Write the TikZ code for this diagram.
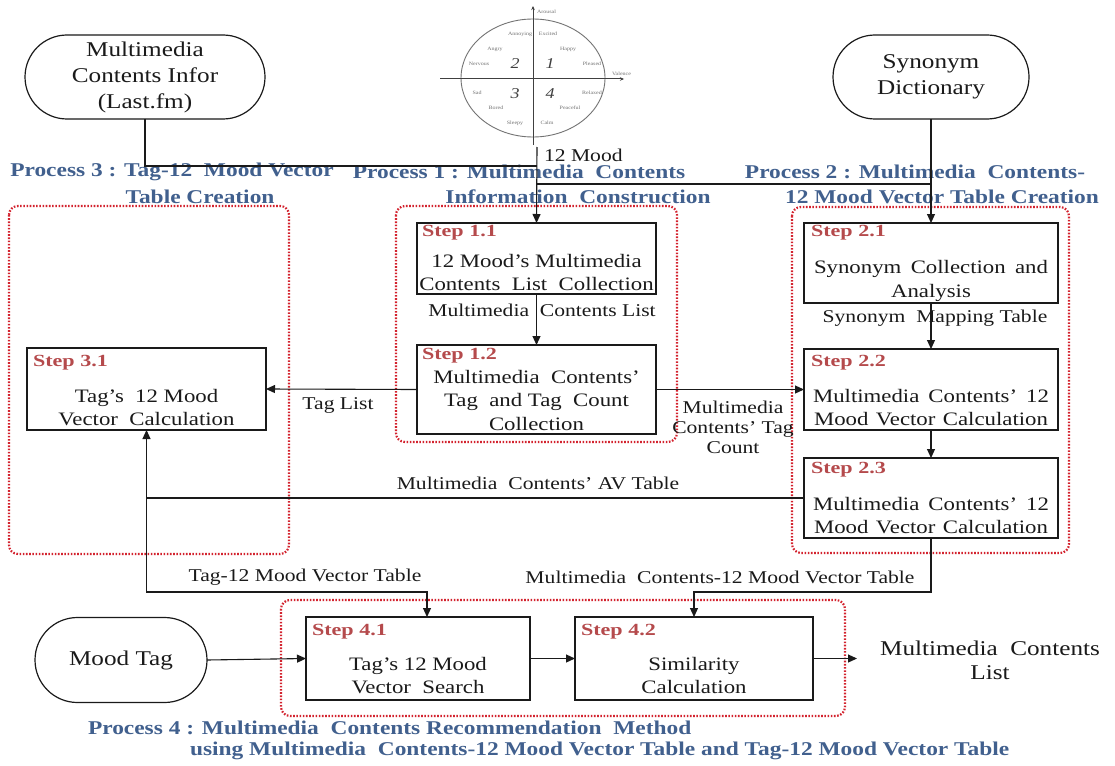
\documentclass[tikz,border=0pt]{standalone}
\usepackage{fontspec}
\setmainfont{Liberation Serif}[FakeStretch=1.2]
\newfontfamily\titlefont{Liberation Serif}[FakeStretch=1.2]
\newfontfamily\stepfont{Liberation Serif}[FakeStretch=1.3]
\usetikzlibrary{arrows.meta,shapes.misc}
\definecolor{titleblue}{HTML}{41608E}
\definecolor{stepred}{HTML}{B54A4C}
\definecolor{dotred}{HTML}{D3222E}
\definecolor{ink}{HTML}{1A1A1A}

\tikzset{
  procbox/.style={draw=ink, line width=1.3pt, fill=white, rectangle},
  terminal/.style={draw=ink, line width=1.2pt, rounded rectangle, fill=white},
  zone/.style={draw=dotred, line width=2.2pt, dash pattern=on 1.6pt off 1.6pt, rounded corners=9pt},
  conn/.style={draw=ink, line width=1.1pt},
  flow/.style={conn, -{Triangle[length=9pt,width=8pt]}},
  body/.style={font=\fontsize{19}{23.5}\selectfont, align=center, text=ink},
  big/.style={font=\fontsize{21}{26}\selectfont, align=center, text=ink},
  lbl/.style={font=\fontsize{18}{20}\selectfont, align=center, text=ink},
  steplbl/.style={font=\stepfont\bfseries\fontsize{17}{19}\selectfont, text=stepred, anchor=west},
  ptitle/.style={font=\titlefont\bfseries\fontsize{19.5}{22}\selectfont, text=titleblue},
  moodword/.style={font=\fontsize{5}{6}\selectfont, text=black!55},
  quad/.style={font=\itshape\fontsize{15}{16}\selectfont, text=black!75},
}

\begin{document}
\begin{tikzpicture}[x=1pt,y=-1pt, every node/.style={inner sep=0pt,outer sep=0pt}]
\useasboundingbox (0,0) rectangle (1115,765);
\fill[white] (0,0) rectangle (1115,765);

% ---- arousal-valence mood circle ----
\draw[black!55, line width=0.9pt] (533,78) ellipse [x radius=72, y radius=59];
\draw[black!75, line width=1pt, -{Stealth[length=4pt,width=3.5pt]}] (533,145) -- (533,6);
\draw[black!75, line width=1pt, -{Stealth[length=4pt,width=3.5pt]}] (440,79) -- (624,79);
\node[moodword, anchor=west] (arousal) at (537,12) {Arousal};
\node[moodword, anchor=west] (valence) at (612,74) {Valence};
\foreach \w/\x/\y [count=\i] in {Annoying/520/34, Excited/548/34, Angry/495/49, Happy/568/49,
    Nervous/479/64, Pleased/592/64, Sad/477/93, Relaxed/592/93, Bored/496/108,
    Peaceful/570/108, Sleepy/515/123, Calm/547/123}
  \node[moodword] (mw\i) at (\x,\y) {\w};
\node[quad] (q2) at (515,64) {2};
\node[quad] (q1) at (550,64) {1};
\node[quad] (q3) at (515,94) {3};
\node[quad] (q4) at (550,94) {4};

% ---- process groups (dotted) ----
\draw[zone] (9,206) rectangle (289,554);
\draw[zone] (396,206) rectangle (677,442);
\draw[zone] (792,207) rectangle (1069,553);
\draw[zone] (281,600) rectangle (845,716);

% ---- process titles ----
\node[ptitle] (p3a) at (172,172) {Process 3 : Tag-12\ \ Mood Vector};
\node[ptitle] (p3b) at (200,197) {Table Creation};
\node[ptitle] (p1a) at (519,172) {Process 1 : Multimedia\ \ Contents};
\node[ptitle] (p1b) at (578,197) {Information\ \ Construction};
\node[ptitle] (p2a) at (915,172) {Process 2 : Multimedia\ \ Contents-};
\node[ptitle] (p2b) at (942,197) {12 Mood Vector Table Creation};
\node[ptitle, anchor=west] (p4a) at (88,728) {Process 4 : Multimedia\ \ Contents Recommendation\ \ Method};
\node[ptitle, anchor=west] (p4b) at (190,751) {using Multimedia\ \ Contents-12 Mood Vector Table and Tag-12 Mood Vector Table};

% ---- terminals ----
\node[terminal, big, minimum width=240pt, minimum height=84pt] (lastfm) at (145,77) {Multimedia\\Contents Infor\\(Last.fm)};
\node[terminal, big, minimum width=196pt, minimum height=84pt] (syn) at (931,77) {Synonym\\Dictionary};
\node[terminal, big, minimum width=172pt, minimum height=85pt] (moodtag) at (121,660) {Mood Tag};

% ---- step boxes ----
\node[procbox, minimum width=239pt, minimum height=71pt] (s11) at (536.5,258.5) {};
\node[procbox, minimum width=239pt, minimum height=89pt] (s12) at (536.5,389.5) {};
\node[procbox, minimum width=239pt, minimum height=82pt] (s31) at (146.5,389) {};
\node[procbox, minimum width=254pt, minimum height=80pt] (s21) at (931,263) {};
\node[procbox, minimum width=254pt, minimum height=81pt] (s22) at (931,389.5) {};
\node[procbox, minimum width=254pt, minimum height=80pt] (s23) at (931,498) {};
\node[procbox, minimum width=224pt, minimum height=83pt] (s41) at (418,658.5) {};
\node[procbox, minimum width=238pt, minimum height=83pt] (s42) at (694,658.5) {};

\node[steplbl] (s11t) at (422,233) {Step 1.1};
\node[body] (s11b) at (536.5,272.5) {12 Mood's Multimedia\\Contents\ \ List\ \ Collection};
\node[steplbl] (s12t) at (422,356) {Step 1.2};
\node[body] (s12b) at (536.5,400) {Multimedia\ \ Contents’\\Tag\ \ and Tag\ \ Count\\Collection};
\node[steplbl] (s31t) at (33,363) {Step 3.1};
\node[body] (s31b) at (146.5,407.5) {Tag’s\ \ 12 Mood\\Vector\ \ Calculation};
\node[steplbl] (s21t) at (811,233) {Step 2.1};
\node[body] (s21b) at (931,281) {\makebox[234pt][s]{Synonym Collection and}\\Analysis};
\node[steplbl] (s22t) at (811,363) {Step 2.2};
\node[body] (s22b) at (931,407.5) {\makebox[236pt][s]{Multimedia Contents’ 12}\\\makebox[234pt][s]{Mood Vector Calculation}};
\node[steplbl] (s23t) at (811,470) {Step 2.3};
\node[body] (s23b) at (931,515.5) {\makebox[236pt][s]{Multimedia Contents’ 12}\\\makebox[234pt][s]{Mood Vector Calculation}};
\node[steplbl] (s41t) at (312,632) {Step 4.1};
\node[body] (s41b) at (418,675.5) {Tag’s 12 Mood\\Vector\ \ Search};
\node[steplbl] (s42t) at (581,632) {Step 4.2};
\node[body] (s42b) at (694,675.5) {Similarity\\Calculation};

% ---- connectors ----
\coordinate (moodfoot) at (537,147);
\coordinate (feedjoin) at (537,166);
\coordinate (busL) at (537,184);
\coordinate (busR) at (931,184);
\coordinate (tap41) at (427,592);
\coordinate (tap42) at (694,592);
\coordinate (outtip) at (857,658.5);

\draw[conn] (lastfm.south) |- (feedjoin);
\draw[flow] (moodfoot) -- (s11.north);
\draw[conn] (busL) -- (busR);
\draw[flow] (syn.south) -- (s21.north);
\draw[flow] (s11.south) -- (s12.north);
\draw[flow] (s12.west) -- (s31.east);
\draw[flow] (s12.east) -- (s22.west);
\draw[flow] (s21.south) -- (s22.north);
\draw[flow] (s22.south) -- (s23.north);
\draw[flow] (s23.west) -| (s31.south);
\draw[flow] (s31.south) |- (tap41) -- (tap41 |- s41.north);
\draw[flow] (s23.south) |- (tap42) -- (s42.north);
\draw[flow] (moodtag.east) -- (s41.west);
\draw[flow] (s41.east) -- (s42.west);
\draw[flow] (s42.east) -- (outtip);

% ---- connector labels ----
\node[lbl, anchor=west] (l12) at (544,155) {12 Mood};
\node[lbl] (lmcl) at (542,310) {Multimedia\ \ Contents List};
\node[lbl] (lsmt) at (935,318) {Synonym\ \ Mapping Table};
\node[lbl] (ltag) at (338,405) {Tag List};
\node[lbl] (lmct) at (733,427) {Multimedia\\Contents’ Tag\\Count};
\node[lbl] (lav) at (538,483) {Multimedia\ \ Contents’ AV Table};
\node[lbl] (lt12) at (305,577) {Tag-12 Mood Vector Table};
\node[lbl] (lmc12) at (720,577) {Multimedia\ \ Contents-12 Mood Vector Table};
\node[big, font=\fontsize{21}{24}\selectfont] (outlist) at (990,660) {Multimedia\ \ Contents\\List};
\end{tikzpicture}
\end{document}
